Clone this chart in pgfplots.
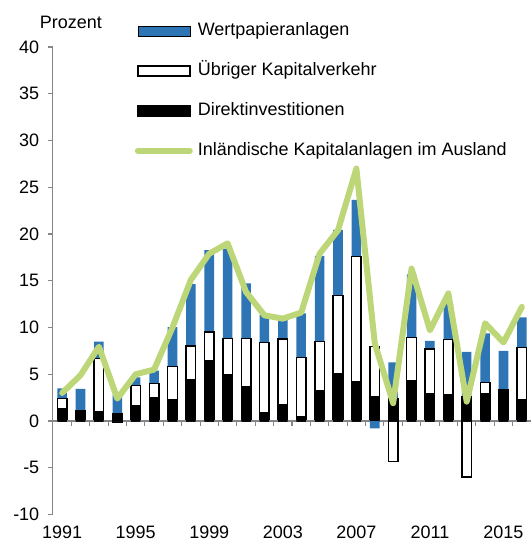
\documentclass[border=0pt]{standalone}
\usepackage{fontspec}
\setmainfont{Liberation Sans}
\usepackage{pgfplots}
\pgfplotsset{compat=1.18}
\usepackage{pgfplotstable}

\definecolor{wpblue}{RGB}{46,117,182}
\definecolor{kagreen}{RGB}{189,215,120}
\definecolor{axgray}{RGB}{134,134,134}

\pgfplotstableread{
x dir oth wp othneg wpneg total
0 1.35 1.07 1.07 0 0 3.0
1 1.05 0.10 2.30 0 0 4.9
2 0.95 5.75 1.80 0 0 7.95
3 0.80 0 2.00 -0.15 0 2.4
4 1.64 2.17 0.86 0 0 5.0
5 2.50 1.50 1.40 0 0 5.5
6 2.30 3.55 4.20 0 0 10.0
7 4.40 3.60 6.65 0 0 15.1
8 6.45 3.07 8.77 0 0 17.9
9 4.95 3.90 9.60 0 0 19.0
10 3.67 5.13 5.92 0 0 13.8
11 0.89 7.52 2.93 0 0 11.3
12 1.71 7.06 2.13 0 0 10.95
13 0.46 6.35 4.69 0 0 11.6
14 3.20 5.32 9.13 0 0 17.9
15 5.03 8.37 7.03 0 0 20.4
16 4.20 13.38 6.06 0 0 27.0
17 2.55 5.40 0 0 -0.78 8.3
18 2.40 0 3.87 -4.35 0 1.9
19 4.31 4.60 6.78 0 0 16.3
20 2.89 4.81 0.86 0 0 9.7
21 2.85 5.88 3.85 0 0 13.65
22 2.60 0 4.80 -6.0 0 2.07
23 2.89 1.25 5.24 0 0 10.45
24 3.32 0 4.17 0 0 8.4
25 2.25 5.63 3.21 0 0 12.2
}\data

\pgfplotsset{
  common/.style={
    scale only axis, width=359pt, height=351pt,
    xmin=-0.5, xmax=25.5, ymin=-10, ymax=40,
    clip=false,
  },
  barlegend/.style={legend image code/.code={\draw[##1,/tikz/.cd] (0pt,-3.75pt) rectangle (39pt,3.75pt);}},
  linelegend/.style={legend image code/.code={\draw[##1,/tikz/.cd] (0pt,0pt) -- (39pt,0pt);}},
}

\begin{document}
\begin{tikzpicture}[font=\fontsize{13.5}{16}\selectfont]
\begin{axis}[common,
  axis lines=left,
  axis line style={-, axgray, line width=0.8pt},
  x axis line style={draw=none},
  xtick={0,4,...,24}, xticklabels={1991,1995,1999,2003,2007,2011,2015},
  xtick style={draw=none},
  xticklabel style={yshift=-1pt},
  ytick={-10,-5,...,40}, yticklabels={-10,-5,0,5,10,15,20,25,30,35,40},
  yticklabel style={xshift=-3pt},
  ytick style={axgray, line width=0.8pt},
  tick align=outside, major tick length=3.75pt,
  ybar stacked, bar width=0.52,
  reverse legend,
  legend cell align=left,
  legend style={at={(axis cs:3.954,42.65)}, anchor=north west, draw=none, fill=none,
    inner sep=0pt, outer sep=0pt, row sep=17pt, column sep=3.75pt,
    nodes={inner sep=0pt, text height=10pt, text depth=3pt}},
]
\draw[axgray, line width=0.8pt] (axis cs:-0.5,0) -- (axis cs:25.5,0);
\pgfplotsinvokeforeach{0,...,24}{\draw[axgray, line width=0.8pt] (axis cs:#1+0.5,0) -- ++(0pt,-3.75pt);}
\addlegendimage{linelegend, kagreen, line width=4.5pt, line cap=round}
\addlegendentry{Inländische Kapitalanlagen im Ausland}
\addplot[barlegend, fill=black, draw=black, line width=1.1pt] table[x=x,y=dir]{\data};
\addlegendentry{Direktinvestitionen}
\addplot[barlegend, fill=white, draw=black, line width=1.1pt] table[x=x,y=oth]{\data};
\addlegendentry{Übriger Kapitalverkehr}
\addplot[barlegend, fill=wpblue, draw=none] table[x=x,y=wp]{\data};
\addlegendentry{Wertpapieranlagen}
\node[anchor=base] at (axis cs:0.48,42.03) {Prozent};
\coordinate (bbA) at (axis cs:-3.379,45.03);
\coordinate (bbB) at (axis cs:25.464,-13.155);
\end{axis}
\begin{axis}[common, hide axis, ybar, bar width=0.52, bar shift=0pt]
\addplot[fill=white, draw=black, line width=1.1pt] table[x=x,y=othneg]{\data};
\addplot[fill=wpblue, draw=none] table[x=x,y=wpneg]{\data};
\addplot[sharp plot, kagreen, line width=4.5pt, line join=round, line cap=round] table[x=x,y=total]{\data};
\end{axis}
\pgfresetboundingbox
\useasboundingbox (bbA) rectangle (bbB);
\end{tikzpicture}
\end{document}
